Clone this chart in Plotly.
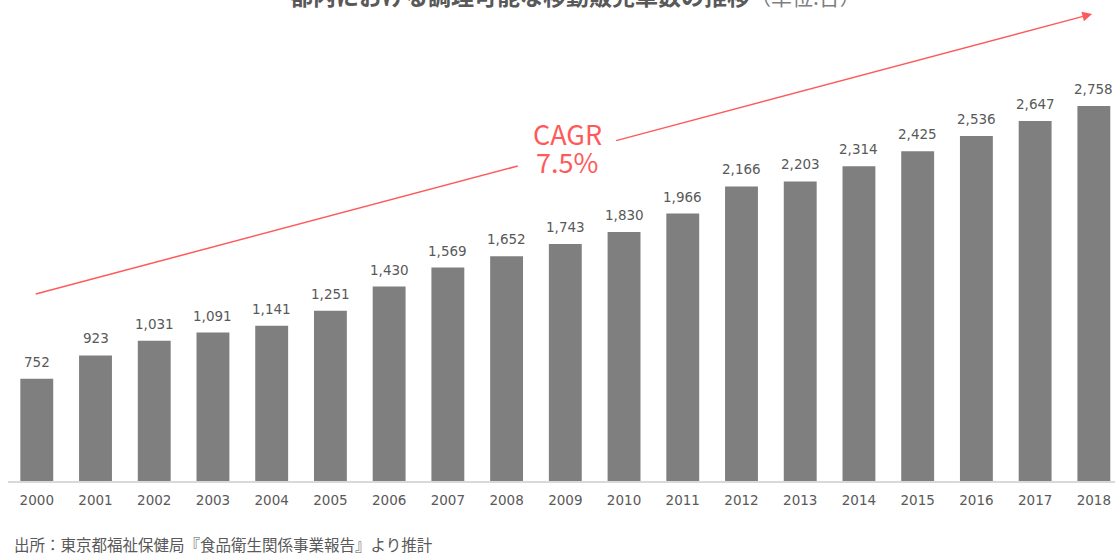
import plotly.graph_objects as go

years = [str(y) for y in range(2000, 2019)]
counts = [752, 923, 1031, 1091, 1141, 1251, 1430, 1569, 1652, 1743, 1830,
          1966, 2166, 2203, 2314, 2425, 2536, 2647, 2758]
labels = [f"{v:,}" for v in counts]

title_main = "都内における調理可能な移動販売車数の推移"
title_unit = "（単位:台）"
source_text = "出所：東京都福祉保健局『食品衛生関係事業報告』より推計"
cagr_lines = ["CAGR", "7.5%"]

FONT = "Noto Sans CJK JP"
NUMFONT = "DejaVu Sans"
GRAY_TXT = "#595959"
RED = "#ff5a5a"
PX = 0.136      # pixels per unit (vertical)
W, H = 1115, 553
L = 8
PLOT_H = 481

fig = go.Figure()
fig.add_trace(go.Bar(x=years, y=counts, marker=dict(color="#7f7f7f", line=dict(width=0)),
                     width=0.56, hoverinfo="skip"))

annotations = []
for i, (v, lab) in enumerate(zip(counts, labels)):
    annotations.append(dict(x=i, y=v, xref="x", yref="y", text=lab, showarrow=False,
                            yanchor="bottom", yshift=7,
                            font=dict(family=NUMFONT, size=13.5, color=GRAY_TXT)))

# CAGR trend arrow (right segment with head)
annotations.append(dict(x=17.97, y=3434, ax=9.84, ay=2500, xref="x", yref="y",
                        axref="x", ayref="y", showarrow=True, arrowhead=2,
                        arrowsize=1.3, arrowwidth=1.5, arrowcolor=RED, text=""))
annotations.append(dict(x=9.03, y=(481 - 133) / PX, xref="x", yref="y",
                        text=cagr_lines[0], showarrow=False,
                        font=dict(family=FONT, size=27, color=RED)))
annotations.append(dict(x=9.03, y=(481 - 161) / PX, xref="x", yref="y",
                        text=cagr_lines[1], showarrow=False,
                        font=dict(family=FONT, size=27, color=RED)))
# title (partially cut at the top as in reference)
annotations.append(dict(x=(288 - L) / (W - L), y=1 + 5 / PLOT_H, xref="paper", yref="paper",
                        xanchor="left", yanchor="middle", showarrow=False,
                        text=f"<b>{title_main}</b><span style='font-size:21px;color:#7f7f7f'>{title_unit}</span>",
                        font=dict(family=FONT, size=23, color="#595959")))
annotations.append(dict(x=0, y=-(544 - 481) / PLOT_H, xref="paper", yref="paper", xanchor="left",
                        yanchor="middle", showarrow=False, xshift=4, text=source_text,
                        font=dict(family=FONT, size=15.5, color=GRAY_TXT)))

shapes = [dict(type="line", xref="x", yref="y", x0=-0.017, y0=1375, x1=8.19, y1=2316,
               line=dict(color=RED, width=1.5))]

fig.update_layout(
    width=W, height=H,
    margin=dict(l=L, r=0, t=0, b=H - PLOT_H, autoexpand=False),
    plot_bgcolor="white", paper_bgcolor="white",
    showlegend=False,
    annotations=annotations, shapes=shapes,
    xaxis=dict(type="category", range=[-0.49, 18.36], showgrid=False,
               showline=True, linecolor="#d9d9d9", linewidth=1.5,
               ticks="outside", ticklen=6, tickcolor="rgba(0,0,0,0)",
               tickfont=dict(family=NUMFONT, size=13.5, color=GRAY_TXT)),
    yaxis=dict(range=[0, PLOT_H / PX], showgrid=False, zeroline=False,
               showticklabels=False, showline=False),
)

fig.write_html(
    "out.html",
    config={"displayModeBar": False},
    post_script="document.body.style.margin='0';document.documentElement.style.overflow='hidden';",
)
